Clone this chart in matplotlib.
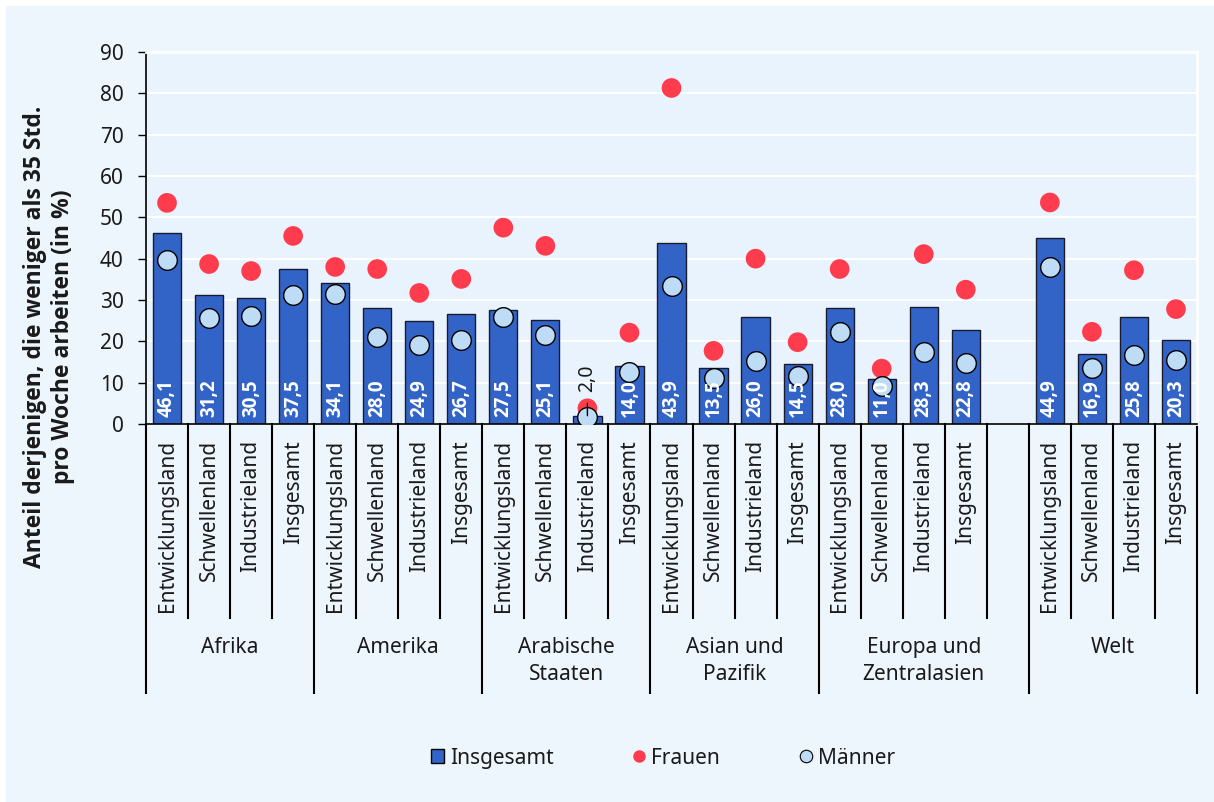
import numpy as np
import matplotlib.pyplot as plt
from matplotlib.patches import Rectangle
from matplotlib.lines import Line2D
from matplotlib.transforms import blended_transform_factory

plt.rcParams['font.family'] = ['Noto Sans', 'DejaVu Sans']
BOLD = ['Open Sans', 'DejaVu Sans']

# Regions and country types
groups = ['Afrika', 'Amerika', 'Arabische\nStaaten', 'Asian und\nPazifik',
          'Europa und\nZentralasien', 'Welt']
categories = ['Entwicklungsland', 'Schwellenland', 'Industrieland', 'Insgesamt']

# Share working less than 35 hours per week (%)
insgesamt = [46.1, 31.2, 30.5, 37.5, 34.1, 28.0, 24.9, 26.7, 27.5, 25.1, 2.0, 14.0,
             43.9, 13.5, 26.0, 14.5, 28.0, 11.0, 28.3, 22.8, 44.9, 16.9, 25.8, 20.3]
frauen = [53.5, 38.7, 37.0, 45.5, 38.0, 37.5, 31.7, 35.1, 47.5, 43.1, 3.8, 22.1,
          81.3, 17.7, 40.0, 19.8, 37.5, 13.4, 41.1, 32.5, 53.6, 22.3, 37.2, 27.8]
maenner = [39.7, 25.6, 26.1, 31.2, 31.5, 21.0, 19.1, 20.3, 26.0, 21.5, 1.6, 12.5,
           33.4, 11.2, 15.2, 11.6, 22.3, 9.3, 17.3, 14.7, 38.1, 13.5, 16.6, 15.5]

# slot positions: one empty slot between Europa and Welt
group_start = [0, 4, 8, 12, 16, 21]
group_end = [4, 8, 12, 16, 21, 25]
x = np.array([s + i for s in group_start for i in range(len(categories))], dtype=float)

bar_color = '#3264c8'
red = '#ff3b4e'
light = '#bfdcf6'
text_color = '#1a1a1a'

W, H = 1214, 802
fig = plt.figure(figsize=(W / 100, H / 100), dpi=100)
fig.patch.set_facecolor('white')
fig.add_artist(Rectangle((6 / W, 0), 1, (H - 6) / H, transform=fig.transFigure,
                         facecolor='#eef6fd', edgecolor='none', zorder=-10))

ax = fig.add_axes([146 / W, 1 - 424 / H, (1197 - 146) / W, (424 - 52) / H])
ax.set_facecolor('#e8f3fd')

ax.bar(x, insgesamt, width=0.67, color=bar_color, edgecolor='#1a1a2e', linewidth=1, zorder=2)
ax.scatter(x, frauen, s=200, color=red, edgecolor='none', zorder=3)
ax.scatter(x, maenner, s=200, color=light, edgecolor='black', linewidth=1, zorder=4)

for xi, v in zip(x, insgesamt):
    label = f'{v:.1f}'.replace('.', ',')
    if v < 5:
        ax.annotate(label, xy=(xi, v), xytext=(0, 17), textcoords='offset points',
                    rotation=90, ha='center', va='bottom', fontsize=14, color=text_color,
                    arrowprops=dict(arrowstyle='-', color='black', lw=1,
                                    shrinkA=6, shrinkB=0), zorder=6)
    else:
        ax.annotate(label, xy=(xi, 0), xytext=(0, 5), textcoords='offset points',
                    rotation=90, ha='center', va='bottom', fontsize=13.5,
                    family=BOLD, fontweight='bold', color='white', zorder=6)

ax.set_xlim(-0.5, 24.5)
ax.set_ylim(0, 90)
ax.set_yticks(range(0, 91, 10))
ax.tick_params(axis='y', direction='out', length=6, width=1, labelsize=15,
               colors='black', labelcolor=text_color, pad=10)
ax.set_xticks([])
ax.grid(axis='y', color='white', linewidth=1.5, zorder=0)
ax.set_axisbelow(True)
for side in ['top', 'right']:
    ax.spines[side].set_color('white')
    ax.spines[side].set_linewidth(2)
for side in ['left', 'bottom']:
    ax.spines[side].set_color('black')
    ax.spines[side].set_linewidth(1.2)

# multi-level category axis below the plot
trans = blended_transform_factory(ax.transData, ax.transAxes)
for i, xi in enumerate(x):
    ax.text(xi, -0.043, categories[i % 4], transform=trans, rotation=90,
            ha='center', va='top', fontsize=15, color=text_color)

long_edges = [s - 0.5 for s in group_start] + [24.5]
short_edges = [b - 0.5 for b in range(1, 25) if b - 0.5 not in long_edges]
for e in short_edges:
    ax.add_line(Line2D([e, e], [0, -0.522], transform=trans, color='black',
                       linewidth=1.5, clip_on=False))
for e in long_edges:
    ax.add_line(Line2D([e, e], [0, -0.723], transform=trans, color='black',
                       linewidth=1.5, clip_on=False))
for g, s, e in zip(groups, group_start, group_end):
    ax.text((s + e - 1) / 2, -0.572, g, transform=trans, ha='center', va='top',
            fontsize=15, color=text_color, linespacing=1.4)

fig.text(49 / W, 1 - 337 / H, 'Anteil derjenigen, die weniger als 35 Std.\npro Woche arbeiten (in %)',
         rotation=90, ha='center', va='center', fontsize=16.5, family=BOLD,
         fontweight='bold', color=text_color, linespacing=1.2)

handles = [
    Rectangle((0, 0), 1, 1, facecolor=bar_color, edgecolor='black', linewidth=1),
    Line2D([], [], marker='o', linestyle='none', markersize=9, markerfacecolor=red,
           markeredgecolor='none'),
    Line2D([], [], marker='o', linestyle='none', markersize=9, markerfacecolor=light,
           markeredgecolor='black', markeredgewidth=0.8),
]
ax.legend(handles, ['Insgesamt', 'Frauen', 'Männer'], loc='center',
          bbox_to_anchor=(0.492, -0.898), ncol=3, frameon=False, fontsize=15,
          handlelength=0.65, handleheight=0.65, handletextpad=0.25, columnspacing=3.8,
          labelcolor=text_color)

fig.savefig('out.png', dpi=100, facecolor=fig.get_facecolor())
